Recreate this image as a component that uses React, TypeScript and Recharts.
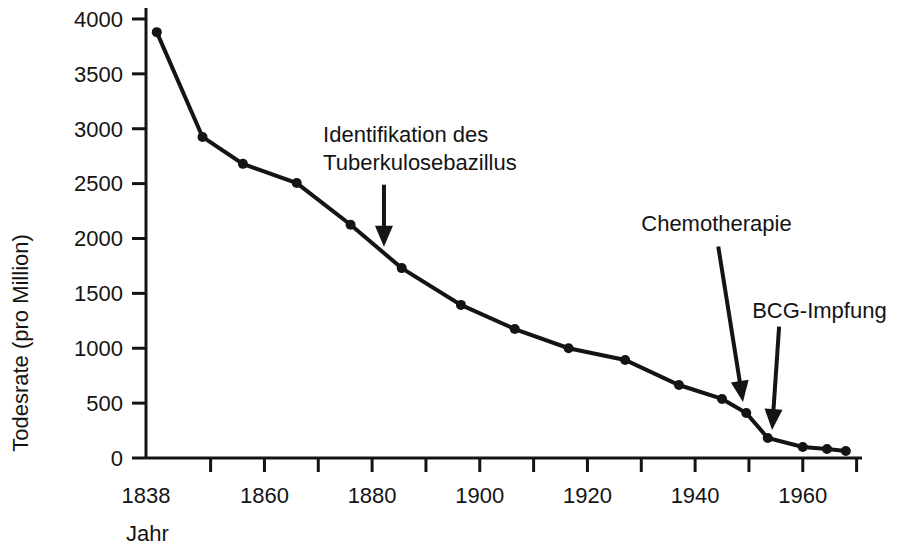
import React from 'react';
import { LineChart, Line, XAxis, YAxis, ReferenceLine, ReferenceDot } from 'recharts';

// Jahr (x) und Todesrate pro Million (y)
const years = [1840, 1848.5, 1856, 1866, 1876, 1885.5, 1896.5, 1906.5, 1916.5, 1927, 1937, 1945, 1949.5, 1953.5, 1960, 1964.5, 1968];
const rates = [3880, 2925, 2680, 2505, 2125, 1730, 1395, 1175, 1000, 893, 665, 538, 410, 182, 100, 82, 64];

const xTicks = [1838, 1850, 1860, 1870, 1880, 1890, 1900, 1910, 1920, 1930, 1940, 1950, 1960, 1970];
const xLabelled = [1838, 1860, 1880, 1900, 1920, 1940, 1960];
const yTicks = [0, 500, 1000, 1500, 2000, 2500, 3000, 3500, 4000];

const yTitle = 'Todesrate (pro Million)';
const xTitle = 'Jahr';

// annotation texts (anchor: year, rate)
const noteTexts = [
  { text: 'Identifikation des', year: 1870.9, rate: 2879 },
  { text: 'Tuberkulosebazillus', year: 1870.9, rate: 2624 },
  { text: 'Chemotherapie', year: 1930.0, rate: 2068 },
  { text: 'BCG-Impfung', year: 1950.6, rate: 1275 },
];
// arrows: from -> to
const noteArrows = [
  { from: { year: 1882.2, rate: 2490 }, to: { year: 1882.2, rate: 1925 } },
  { from: { year: 1944.3, rate: 1927 }, to: { year: 1948.9, rate: 511 } },
  { from: { year: 1955.6, rate: 1196 }, to: { year: 1954.3, rate: 255 } },
];

const data = years.map((y, i) => ({ year: y, rate: rates[i] }));

const FONT = '"Liberation Sans", Arial, Helvetica, sans-serif';
const INK = '#141414';

const XTick = (props: any) => {
  const { x, y, payload } = props;
  const v = payload.value;
  return (
    <g>
      {v !== 1838 && (
        <line x1={x} y1={y - 29} x2={x} y2={y - 15} stroke={INK} strokeWidth={3} />
      )}
      {xLabelled.includes(v) && (
        <text x={x} y={y} dy="0.71em" textAnchor="middle" fill={INK} fontSize={22} fontFamily={FONT}>
          {v}
        </text>
      )}
    </g>
  );
};

const arrowShape = (p: any) => {
  const { x1, y1, x2, y2 } = p;
  const dx = x2 - x1;
  const dy = y2 - y1;
  const len = Math.hypot(dx, dy) || 1;
  const ux = dx / len;
  const uy = dy / len;
  const headLen = 21;
  const headW = 9;
  const bx = x2 - ux * headLen;
  const by = y2 - uy * headLen;
  const px = -uy;
  const py = ux;
  return (
    <g>
      <line x1={x1} y1={y1} x2={bx + ux * 2} y2={by + uy * 2} stroke={INK} strokeWidth={4} />
      <polygon
        points={`${x2},${y2} ${bx + px * headW},${by + py * headW} ${bx - px * headW},${by - py * headW}`}
        fill={INK}
      />
    </g>
  );
};

export default function App() {
  return (
    <div style={{ position: 'absolute', left: 0, top: 0, width: 897, height: 547, background: '#fff' }}>
      <LineChart width={897} height={547} data={data} margin={{ top: 8, right: 35, left: 0, bottom: 0 }}>
        <XAxis
          type="number"
          dataKey="year"
          domain={[1838, 1971]}
          ticks={xTicks}
          interval={0}
          allowDataOverflow
          height={89}
          axisLine={{ stroke: INK, strokeWidth: 3 }}
          tickLine={false}
          tickSize={14}
          tickMargin={15}
          tick={<XTick />}
          label={() => (
            <text x={126} y={541} textAnchor="start" fill={INK} fontSize={22} fontFamily={FONT}>
              {xTitle}
            </text>
          )}
        />
        <YAxis
          type="number"
          domain={[0, 4100]}
          ticks={yTicks}
          interval={0}
          allowDataOverflow
          width={146}
          axisLine={{ stroke: INK, strokeWidth: 3 }}
          tickLine={{ stroke: INK, strokeWidth: 3 }}
          tickSize={14}
          tickMargin={9}
          tick={{ fill: INK, fontSize: 22, fontFamily: FONT }}
          label={() => (
            <text
              x={28}
              y={343}
              transform="rotate(-90 28 343)"
              textAnchor="middle"
              fill={INK}
              fontSize={22}
              fontFamily={FONT}
            >
              {yTitle}
            </text>
          )}
        />
        <Line
          type="linear"
          dataKey="rate"
          stroke={INK}
          strokeWidth={4}
          dot={{ r: 5, fill: INK, stroke: INK, strokeWidth: 0 }}
          activeDot={false}
          isAnimationActive={false}
        />
        {noteArrows.map((a, i) => (
          <ReferenceLine
            key={'a' + i}
            segment={[
              { x: a.from.year, y: a.from.rate },
              { x: a.to.year, y: a.to.rate },
            ]}
            ifOverflow="visible"
            shape={arrowShape}
          />
        ))}
        {noteTexts.map((t, i) => (
          <ReferenceDot
            key={'t' + i}
            x={t.year}
            y={t.rate}
            r={0}
            ifOverflow="visible"
            shape={(p: any) => (
              <text x={p.cx} y={p.cy} textAnchor="start" fill={INK} fontSize={22} fontFamily={FONT}>
                {t.text}
              </text>
            )}
          />
        ))}
      </LineChart>
    </div>
  );
}
